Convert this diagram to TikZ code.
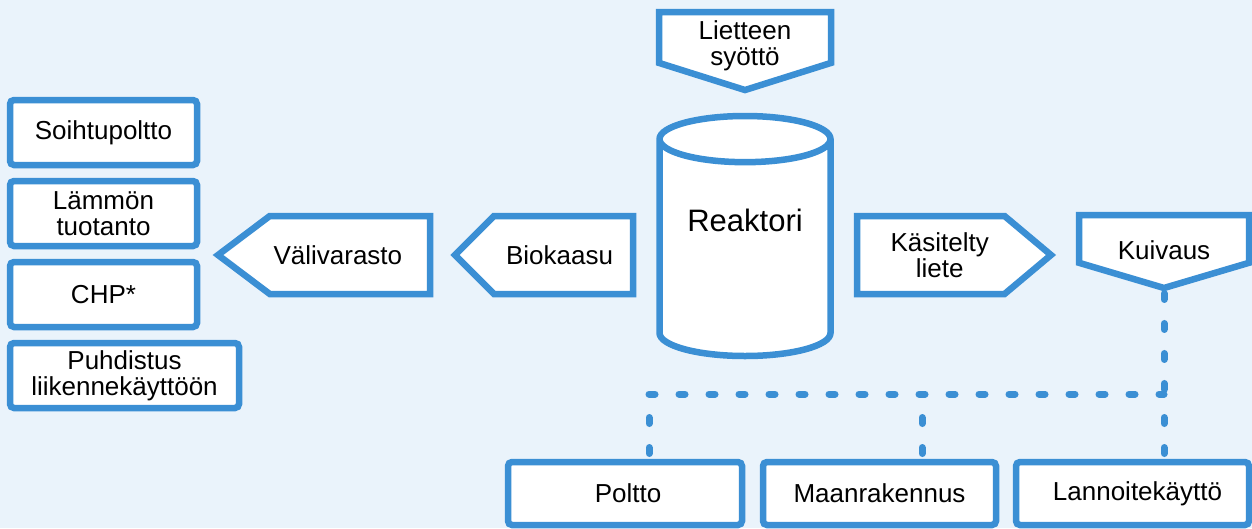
\documentclass[tikz,border=0pt]{standalone}
\usepackage{fontspec}
\setmainfont{Liberation Sans}
\usetikzlibrary{shapes,positioning}
\definecolor{bg}{RGB}{234,243,251}
\definecolor{bl}{RGB}{59,143,212}

\begin{document}
\begin{tikzpicture}[x=1pt,y=-1pt,
  every node/.style={align=center,inner sep=0pt,outer sep=0pt,
    font=\fontsize{26}{26}\selectfont},%
  bx/.style={draw=bl,fill=white,line width=6.5pt,rounded corners=4pt,
    minimum width=187pt,minimum height=65pt},%
  sg/.style={signal,draw=bl,fill=white,line width=6.5pt},%
  cl/.style={cylinder,aspect=.4,shape border rotate=90,draw=bl,fill=white,
    line width=6.5pt},%
  dl/.style={draw=bl,line width=7pt,line cap=round,dash pattern=on 6pt off 24pt},%
  ]

  \fill[bg] (0,0) rectangle (1252,528);
  \useasboundingbox (0,0) rectangle (1252,528);

  % left column
  \node (soih) [bx,anchor=north west] at (10,100) {Soihtupoltto};
  \node (lammo) [bx,below=16pt of soih] {Lämmön\\tuotanto};
  \node (chp) [bx,below=16pt of lammo] {CHP*};
  \node (puhd) [bx,minimum width=229pt,below=16pt of chp.south west,
  anchor=north west] {Puhdistus\\liikennekäyttöön};

  % main line
  \node (feed) [sg,signal to=south,signal pointer angle=145,
  minimum width=172pt,minimum height=65.5pt,anchor=north] at (745,12)
  {\raisebox{-8pt}[\height][\depth]{Lietteen}\\\raisebox{-8pt}[\height][\depth]{syöttö}};
  \node (reak) [cl,minimum width=171pt,minimum height=240pt,anchor=north,
  text depth=58pt,font=\fontsize{31}{31}\selectfont] at (745,116) {Reaktori};
  \node (valiv) [sg,signal to=west,signal pointer angle=74,
  minimum width=212pt,minimum height=78pt,anchor=east] at (430,255) {Välivarasto\hspace*{24pt}};
  \node (bio) [sg,signal to=west,signal pointer angle=90,
  minimum width=178pt,minimum height=78pt,anchor=east] at (633,255) {Biokaasu\hspace*{8pt}};
  \node (kasit) [sg,signal to=east,signal pointer angle=80,
  minimum width=194pt,minimum height=78pt,anchor=west] at (857,255)
  {\hspace*{18pt}Käsitelty\\\hspace*{18pt}liete};
  \node (dry) [sg,signal to=south,signal pointer angle=147,
  minimum width=170pt,minimum height=61.5pt,text height=41pt,anchor=north] at (1164,215) {Kuivaus};

  % end uses
  \node (polt) [bx,minimum width=234pt,minimum height=63pt,
  anchor=north west] at (508,462) {\hspace*{6pt}Poltto};
  \node (maan) [bx,minimum width=233pt,minimum height=63pt,
  right=21pt of polt] {Maanrakennus};
  \node (lann) [bx,minimum width=233pt,minimum height=63pt,
  right=20pt of maan] {\hspace*{10pt}Lannoitekäyttö};

  \coordinate (jl) at (649,394);
  \coordinate (jm) at (922,394);
  \coordinate (jr) at (dry.south |- jl);
  \draw [dl,dash phase=24.5pt] (dry.south) -- (jr);
  \draw [dl,dash phase=6.5pt] (jr) -- (jr |- lann.north);
  \draw [dl] (jl) -- (jr);
  \draw [dl,dash phase=6.5pt] (jl) -- (jl |- polt.north);
  \draw [dl,dash phase=6.5pt] (jm) -- (jm |- maan.north);
\end{tikzpicture}
\end{document}
